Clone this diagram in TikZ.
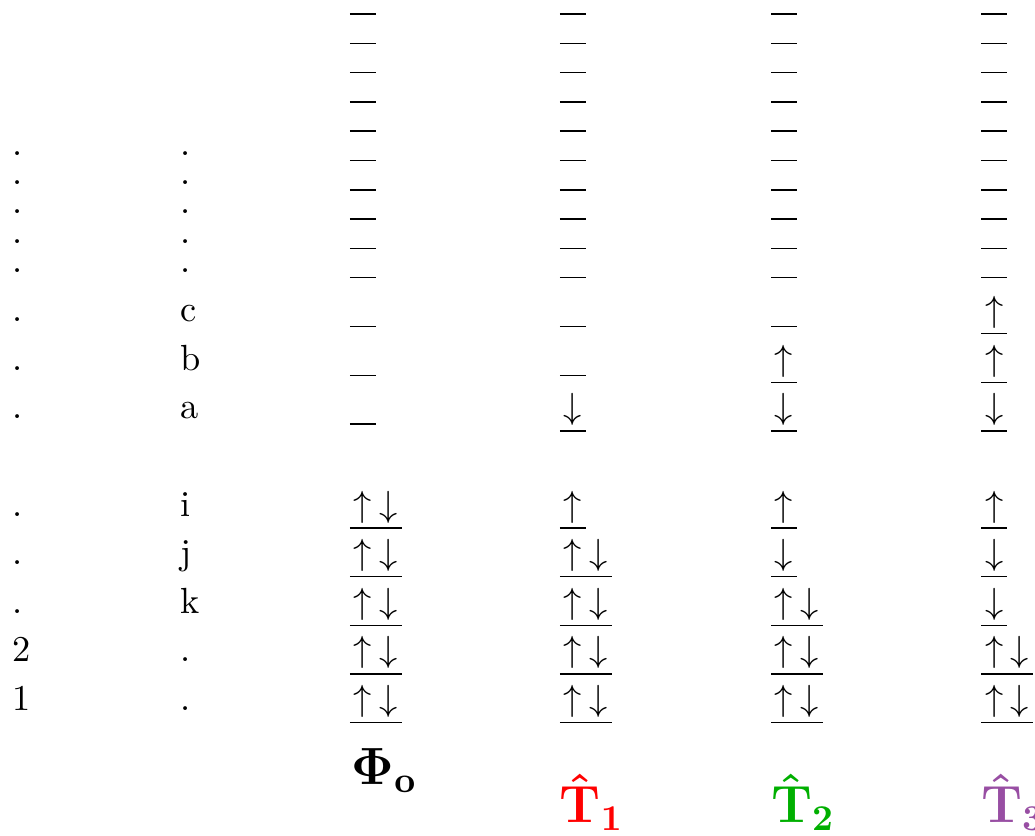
\documentclass[tikz,border=0pt]{standalone}
\usepackage{amsmath,amssymb}
\usepackage{tikz}
\usepackage{xcolor}
\definecolor{tone1}{RGB}{255,0,0}
\definecolor{tone2}{RGB}{0,175,0}
\definecolor{tone3}{RGB}{152,78,163}
% one slot on a level, and the filled levels
\newcommand{\slotbox}[1]{\makebox[0.25cm]{$#1$}}
\newcommand{\sE}{\slotbox{}}
\newcommand{\sU}{\slotbox{\uparrow}}
\newcommand{\sD}{\slotbox{\downarrow}}
\newcommand{\sUD}{\slotbox{\uparrow}\slotbox{\downarrow}}
\newcommand{\lev}[1]{\underline{#1}}

\begin{document}
\begin{tikzpicture}[
  lvl/.style={inner sep=0pt,outer sep=0pt,anchor=base west},
  lab/.style={inner sep=0pt,outer sep=0pt,anchor=base west},
  big/.style={lab,font=\Large\boldmath}]

\useasboundingbox (0,0) rectangle (10,-8.077);

% empty upper levels
\foreach \k in {0,...,9}{
  \foreach \c/\x in {1/3.38,2/5.41,3/7.45,4/9.48}{
    \node[lvl] (up-\k-\c) at (\x,{-0.086-0.2831*\k}) {\lev{\sE}};
  }
}
\foreach \k in {5,...,9}{
  \node[lab] (da-\k) at (0.12,{-0.086-0.2831*\k}) {.};
  \node[lab] (db-\k) at (1.74,{-0.086-0.2831*\k}) {.};
}

% labelled levels: {y, label a, label b, four columns, name}
\foreach \y/\la/\lb/\ca/\cb/\cc/\cd/\name in {
   3.107/./c/\sE/\sE/\sE/\sU/c,
   3.577/./b/\sE/\sE/\sU/\sU/b,
   4.046/./a/\sE/\sD/\sD/\sD/a,
   4.986/./i/\sUD/\sU/\sU/\sU/i,
   5.455/./j/\sUD/\sUD/\sD/\sD/j,
   5.925/./k/\sUD/\sUD/\sUD/\sD/k,
   6.394/2/./\sUD/\sUD/\sUD/\sUD/2,
   6.863/1/./\sUD/\sUD/\sUD/\sUD/1}{
  \node[lab] (la-\name) at (0.12,-\y) {\la};
  \node[lab] (lb-\name) at (1.74,-\y) {\lb};
  \node[lvl] (lv-\name-1) at (3.38,-\y) {\lev{\ca}};
  \node[lvl] (lv-\name-2) at (5.41,-\y) {\lev{\cb}};
  \node[lvl] (lv-\name-3) at (7.45,-\y) {\lev{\cc}};
  \node[lvl] (lv-\name-4) at (9.48,-\y) {\lev{\cd}};
}

% reference and excitation labels
\node[big] (phi) at (3.40,-7.58) {$\mathbf{\Phi}_{\mathbf{o}}$};
\foreach \n/\x in {1/5.41,2/7.45,3/9.48}{
  \node[big,text=tone\n] (t\n) at (\x,-7.95) {$\hat{\mathbf{T}}_{\mathbf{\n}}$};
}

\end{tikzpicture}
\end{document}
